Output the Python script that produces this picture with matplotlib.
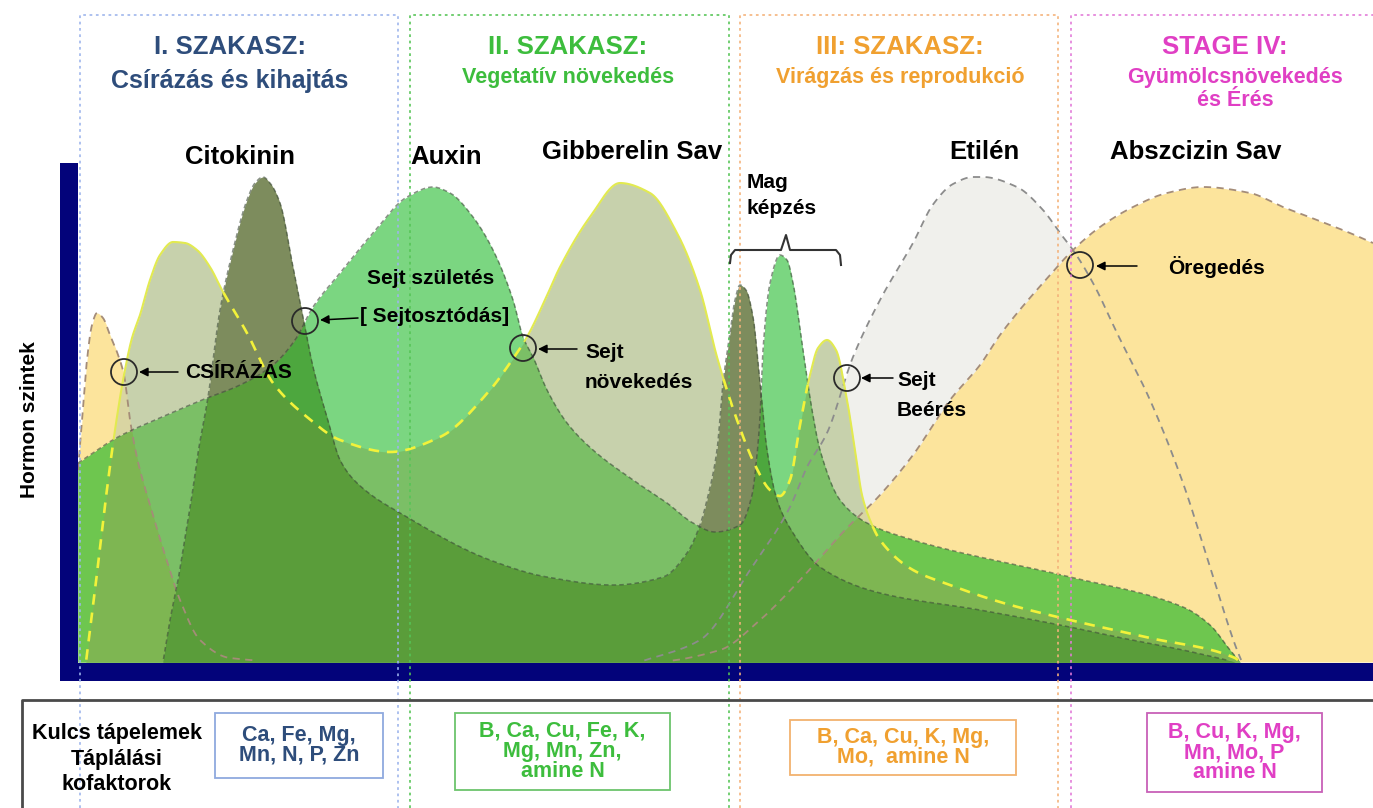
import numpy as np
import matplotlib
matplotlib.use("Agg")
import matplotlib.pyplot as plt
from matplotlib.patches import Rectangle, Circle

plt.rcParams['font.family'] = ['Liberation Sans', 'DejaVu Sans']
plt.rcParams['font.weight'] = 'bold'

# ---------------- data (time 0..129.5, hormone level 0..100) ----------------
ga_t = [0.8, 1.7, 2.7, 3.7, 4.6, 5.4, 6.2, 7.2, 8.2, 9.5, 10.7, 11.9, 13.2, 14.4, 16.9, 19.5,
        22.9, 26.2, 31.2, 36.2, 41.2, 43.2, 44.9, 46.7, 48.2, 51.2, 54.2, 57.2, 59.9, 62.2,
        63.9, 65.9, 67.7, 69.2, 70.2, 71.2, 72.2, 73.2, 74.0, 74.9, 75.8, 76.9, 77.7, 78.4,
        79.2, 80.2, 83.5, 87.2, 92.2, 99.2, 107.2, 115.7, 116.2]
ga_v = [0, 14.4, 31.4, 46.4, 57.4, 64.8, 69.4, 76.4, 81.4, 84.0, 83.8, 82.4, 79.0, 74.4, 65.8, 55.8,
        49.0, 44.4, 42.0, 45.0, 54.4, 59.8, 65.0, 72.4, 79.0, 89.0, 95.8, 93.8, 85.8, 74.4,
        61.0, 48.4, 39.4, 34.4, 33.2, 36.4, 47.4, 57.4, 62.8, 64.4, 62.4, 52.4, 42.4, 33.4,
        28.4, 24.4, 18.4, 15.4, 12.0, 8.4, 4.8, 0.8, 0]

aux_t = [0, 4.0, 8.4, 12.4, 16.2, 19.5, 21.7, 23.5, 26.2, 29.5, 32.9, 35.5, 37.2, 39.5, 41.5,
         43.5, 44.5, 45.5, 46.9, 48.9, 51.5, 55.5, 58.9, 61.5, 63.7, 66.2, 67.4, 67.9, 68.2,
         68.5, 69.2, 70.2, 70.9, 71.5, 72.5, 73.4, 74.2, 76.2, 78.9, 83.5, 87.2, 99.2, 110.5,
         113.2, 115.2, 116.2]
aux_v = [39.8, 45.0, 49.0, 52.4, 55.4, 59.4, 64.4, 71.0, 77.8, 85.8, 93.0, 95.0, 93.8, 89.0, 82.4,
         72.4, 65.0, 61.0, 54.4, 47.8, 42.4, 36.4, 31.8, 27.8, 26.0, 27.4, 33.4, 41.4, 49.0,
         62.4, 75.8, 81.4, 80.4, 75.8, 62.4, 50.4, 42.4, 32.4, 27.8, 24.4, 22.4, 17.0, 11.0,
         7.4, 2.4, 0]

ck_t = [8.5, 9.2, 10.0, 10.7, 11.4, 12.0, 13.0, 14.2, 15.5, 16.9, 17.7, 18.5, 19.2, 20.2, 21.5,
        22.5, 23.5, 24.9, 26.2, 27.9, 32.9, 41.2, 46.9, 53.5, 58.5, 60.9, 62.2, 62.9, 63.9,
        64.5, 65.2, 65.7, 66.2, 66.8, 67.5, 68.2, 68.9, 69.9, 71.5, 74.2, 80.2, 90.2, 99.2,
        103.9, 110.5, 115.7]
ck_v = [0, 8.4, 16.4, 25.0, 33.4, 41.8, 53.0, 70.4, 82.4, 92.4, 95.8, 97.0, 95.8, 91.8, 79.0,
        69.0, 59.0, 49.0, 40.4, 35.8, 29.0, 20.4, 17.0, 15.4, 17.0, 21.8, 27.4, 32.4, 42.4,
        55.8, 65.8, 72.4, 75.4, 74.4, 69.0, 55.8, 42.4, 32.4, 25.8, 19.0, 13.8, 10.4, 7.0,
        5.0, 2.4, 0]

eth_t = [56.2, 62.2, 67.2, 71.2, 72.9, 74.9, 77.5, 80.2, 83.5, 85.5, 87.5, 89.5, 90.5, 93.9,
         96.5, 98.2, 99.5, 101.5, 103.9, 107.2, 110.5, 113.2, 115.9, 116.4]
eth_v = [0, 4.4, 18.4, 31.0, 39.0, 45.8, 61.0, 72.4, 83.8, 91.5, 95.6, 97.0, 97.0, 95.0,
         90.4, 85.8, 82.4, 75.8, 65.8, 52.4, 35.8, 19.0, 2.4, 0]

aba_t = [0, 0.4, 0.9, 1.4, 1.9, 2.5, 3.2, 3.9, 4.6, 5.2, 6.0, 7.2, 8.7, 10.2, 12.2, 15.2, 22.2,
         57.2, 64.2, 68.2, 72.2, 76.7, 80.2, 83.5, 87.2, 90.2, 92.2, 97.2, 99.5, 102.2, 105.5,
         108.9, 112.5, 117.2, 120.5, 123.9, 127.2, 129.5]
aba_v = [38.4, 48.4, 60.4, 67.4, 69.8, 68.8, 65.4, 62.0, 57.4, 48.4, 40.0, 31.4, 21.4, 12.4, 4.4,
         0.8, 0, 0, 2.4, 8.4, 16.4, 26.4, 33.4, 41.4, 52.4, 59.4, 65.4, 77.4, 82.4, 87.0, 91.0,
         93.8, 95.0, 93.8, 91.0, 88.4, 85.8, 83.8]

stage_titles = ["I. SZAKASZ:", "II. SZAKASZ:", "III: SZAKASZ:", "STAGE IV:"]
stage_subtitles = [["Csírázás és kihajtás"], ["Vegetatív növekedés"],
                   ["Virágzás és reprodukció"], ["Gyümölcsnövekedés", "és Érés"]]
hormone_names = ["Citokinin", "Auxin", "Gibberelin Sav", "Etilén", "Abszcizin Sav"]
nutrients = [["Ca, Fe, Mg,", "Mn, N, P, Zn"],
             ["B, Ca, Cu, Fe, K,", "Mg, Mn, Zn,", "amine N"],
             ["B, Ca, Cu, K, Mg,", "Mo,  amine N"],
             ["B, Cu, K, Mg,", "Mn, Mo, P", "amine N"]]

# ---------------- colours ----------------
ETH_C = '#F0F0EC'
ABA_C = '#FCE49C'
GA_C = '#C7D1AC'
GA_ABA_C = '#D9D5A2'
AUX_C = '#7BD681'
AUX_ABA_C = '#6EC64F'
AUX_GA_C = '#7BBF66'
AUX_GA_ABA_C = '#7EB652'
CK_C = '#7D8C5D'
CK_AUX_C = '#4DA73E'
CK_AUX_GA_C = '#5A9D3A'
stage_cols = ['#2E4D7B', '#3DBD3D', '#F0A030', '#E03FC4']
box_cols = ['#8FA9DE', '#6CC46C', '#F2B26E', '#C860B8']
dot_cols = ['#9DB5EC', '#56C456', '#F4B27A', '#E27AD8']

fig = plt.figure(figsize=(13.73, 8.08), dpi=100)
ax = fig.add_axes([78 / 1373, 146 / 808, 1295 / 1373, 500 / 808])
ax.set_xlim(0, 129.5)
ax.set_ylim(0, 100)
ax.axis('off')

xs = np.linspace(0, 129.5, 5000)


def pchip(t, v, xq):
    """Monotone cubic Hermite curve through the read points (for smooth drawing)."""
    t = np.asarray(t, float)
    v = np.asarray(v, float)
    h = np.diff(t)
    d = np.diff(v) / h
    m = np.zeros_like(v)
    for k in range(1, len(v) - 1):
        if d[k - 1] * d[k] > 0:
            w1 = 2 * h[k] + h[k - 1]
            w2 = h[k] + 2 * h[k - 1]
            m[k] = (w1 + w2) / (w1 / d[k - 1] + w2 / d[k])
    m[0] = d[0]
    m[-1] = d[-1]
    out = np.zeros_like(xq)
    inside = (xq >= t[0]) & (xq <= t[-1])
    xi = xq[inside]
    k = np.clip(np.searchsorted(t, xi) - 1, 0, len(t) - 2)
    s = (xi - t[k]) / h[k]
    h00 = 2 * s**3 - 3 * s**2 + 1
    h10 = s**3 - 2 * s**2 + s
    h01 = -2 * s**3 + 3 * s**2
    h11 = s**3 - s**2
    out[inside] = h00 * v[k] + h10 * h[k] * m[k] + h01 * v[k + 1] + h11 * h[k] * m[k + 1]
    return np.clip(out, 0, None)


E = pchip(eth_t, eth_v, xs)
A = pchip(aba_t, aba_v, xs)
G = pchip(ga_t, ga_v, xs)
X = pchip(aux_t, aux_v, xs)
C = pchip(ck_t, ck_v, xs)
mn = np.minimum
layers = [(E, ETH_C), (A, ABA_C), (G, GA_C), (mn(G, A), GA_ABA_C),
          (X, AUX_C), (mn(X, A), AUX_ABA_C), (mn(X, G), AUX_GA_C), (mn(mn(X, G), A), AUX_GA_ABA_C),
          (C, CK_C), (mn(C, X), CK_AUX_C), (mn(mn(C, X), G), CK_AUX_GA_C)]
for y, col in layers:
    ax.fill_between(xs, 0, y, color=col, lw=0)


def outline(y, mask, **kw):
    ax.plot(xs, np.where(mask & (y > 0.3), y, np.nan), **kw)


allm = np.ones_like(xs, dtype=bool)
outline(E, allm, color='#8C8C8C', lw=1.3, ls=(0, (4, 3)))
outline(A, allm, color='#A48C78', lw=1.3, ls=(0, (4, 3)))
outline(X, allm, color='#3C4A38', lw=1.1, ls=(0, (3, 2)), alpha=0.6)
outline(C, allm, color='#3C4A38', lw=1.1, ls=(0, (3, 2)), alpha=0.6)
top = G >= np.maximum(X, C) - 0.1
outline(G, top, color='#E2EA50', lw=1.5)
outline(G, ~top, color='#F2F23A', lw=1.9, ls=(0, (4, 3)))

# ---------------- overlay in pixel coordinates ----------------
ov = fig.add_axes([0, 0, 1, 1])
ov.set_xlim(0, 1373)
ov.set_ylim(808, 0)
ov.axis('off')

# stage frames (dotted)
for (x0, x1), c in zip([(80, 398), (410, 729), (740, 1058), (1071, 1390)], dot_cols):
    ov.plot([x0, x0, x1, x1], [808, 15, 15, 808], color=c, lw=1.3, ls=(0, (1.5, 2)), alpha=0.9)

# axes bars
ov.add_patch(Rectangle((60, 163), 18, 518, color='#03037A', lw=0))
ov.add_patch(Rectangle((60, 663), 1313, 18, color='#03037A', lw=0))

# nutrient table frame
ov.plot([22, 22, 1373], [808, 700, 700], color='#4A4A4A', lw=2)

# titles
title_x = [230, 568, 900, 1225]
for i, (t, subs) in enumerate(zip(stage_titles, stage_subtitles)):
    ov.text(title_x[i], 47, t, color=stage_cols[i], fontsize=18.5, ha='center', va='center')
    sub_fs = 18 if i == 0 else 15.5
    sub_y0 = 81 if i == 0 else 77
    for j, s in enumerate(subs):
        ov.text(title_x[i] + (10 if i == 3 else 0), sub_y0 + 24 * j, s, color=stage_cols[i],
                fontsize=sub_fs, ha='center', va='center')

# hormone names
hx = [240, 446, 632, 984, 1196]
hy = [157, 157, 152, 152, 152]
for n, x, y in zip(hormone_names, hx, hy):
    ov.text(x, y, n, fontsize=18.5, ha='center', va='center', color='black')

ov.text(30, 420, "Hormon szintek", rotation=90, fontsize=15, ha='center', va='center')

# annotations
ann_fs = 15
ov.text(185, 373, "CSÍRÁZÁS", fontsize=ann_fs, va='center')
ov.text(367, 278, "Sejt születés", fontsize=ann_fs, va='center')
ov.text(360, 317, "[ Sejtosztódás]", fontsize=ann_fs, va='center')
ov.text(585, 352, "Sejt", fontsize=ann_fs, va='center')
ov.text(585, 382, "növekedés", fontsize=ann_fs, va='center')
ov.text(897, 381, "Sejt", fontsize=ann_fs, va='center')
ov.text(897, 410, "Beérés", fontsize=ann_fs, va='center')
ov.text(1168, 267, "Öregedés", fontsize=ann_fs, va='center')
ov.text(747, 182, "Mag", fontsize=ann_fs, va='center')
ov.text(747, 209, "képzés", fontsize=ann_fs, va='center')

circles = [(124, 372), (305, 321), (523, 348), (847, 378), (1080, 265)]
for cx, cy in circles:
    ov.add_patch(Circle((cx, cy), 13, fill=False, ec='#2A2A2A', lw=1.3))

arrows = [((139, 372), (178, 372)), ((320, 320), (358, 318)), ((538, 349), (577, 349)),
          ((861, 378), (893, 378)), ((1096, 266), (1137, 266))]
for tip, tail in arrows:
    ov.annotate('', xy=tip, xytext=tail,
                arrowprops=dict(arrowstyle='-|>', color='black', lw=1.1, mutation_scale=13,
                                shrinkA=0, shrinkB=0))

# bracket for "Mag képzés"
ov.plot([730, 731, 735, 781, 786, 790, 836, 840, 841],
        [263, 255, 250, 250, 235, 250, 250, 255, 265], color='#333333', lw=1.5)

# nutrient label
for j, s in enumerate(["Kulcs tápelemek", "Táplálási", "kofaktorok"]):
    ov.text(117, 733 + 26 * j, s, fontsize=15.5, ha='center', va='center', color='black')

boxes = [(215, 713, 168, 65), (455, 713, 215, 77), (790, 720, 226, 55), (1147, 713, 175, 79)]
for i, (bx, by, bw, bh) in enumerate(boxes):
    ov.add_patch(Rectangle((bx, by), bw, bh, fill=False, ec=box_cols[i], lw=1.3))
    lines = nutrients[i]
    n = len(lines)
    cy = by + bh / 2
    step = 20
    for j, s in enumerate(lines):
        ov.text(bx + bw / 2, cy + (j - (n - 1) / 2) * step, s, color=stage_cols[i],
                fontsize=15.5, ha='center', va='center')

fig.savefig("out.png", dpi=100)
